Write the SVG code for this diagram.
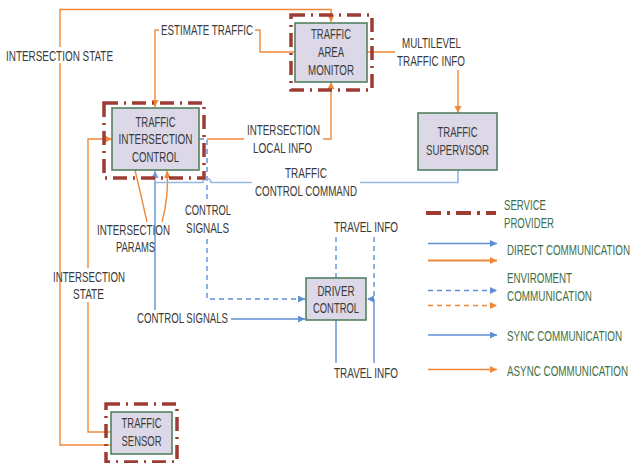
<svg xmlns="http://www.w3.org/2000/svg" width="633" height="463" viewBox="0 0 633 463">
<style>
text{font-family:"Liberation Sans",Arial,sans-serif;font-size:14px;fill:#3a3a3a;text-anchor:middle}
.lg{fill:#3e6e48;text-anchor:start}
.box{fill:#dcd8e7;stroke:#4a7a55;stroke-width:1.5}
.frame{fill:none;stroke:#9e3b33;stroke-width:3.5;stroke-dasharray:14 6 2 6}
.o{fill:none;stroke:#f0883a;stroke-width:1.4}
.b{fill:none;stroke:#5f8fd3;stroke-width:1.4}
.lb{fill:none;stroke:#93b6e2;stroke-width:1.6}
.d{stroke-dasharray:5 4}
.bg{fill:#fff}
</style>
<defs>
<marker id="aO" markerUnits="userSpaceOnUse" markerWidth="8" markerHeight="8" refX="7" refY="3.5" orient="auto"><path d="M0,0 L7,3.5 L0,7 z" fill="#f0883a"/></marker>
<marker id="aB" markerUnits="userSpaceOnUse" markerWidth="8" markerHeight="8" refX="7" refY="3.5" orient="auto"><path d="M0,0 L7,3.5 L0,7 z" fill="#5f8fd3"/></marker>
<marker id="aLB" markerUnits="userSpaceOnUse" markerWidth="8" markerHeight="8" refX="7" refY="3.5" orient="auto"><path d="M0,0 L7,3.5 L0,7 z" fill="#6f9bd8"/></marker>
</defs>
<rect width="633" height="463" fill="#fff"/>

<g id="connectors">
<path class="o" d="M112,445 H60 V9.5 H331 V22" marker-end="url(#aO)"/>
<path class="o" d="M112,432 H88 V139 H112" marker-end="url(#aO)"/>
<path class="o" d="M295,52 H260 V30 H155 V107" marker-end="url(#aO)"/>
<path class="o" d="M367,52 H458 V113" marker-end="url(#aO)"/>
<path class="o" d="M207,139 H331 V82" marker-end="url(#aO)"/>
<path class="o" d="M135,170 Q141,195 147,222"/>
<path class="o" d="M162,222 Q169,196 167,171" marker-end="url(#aO)"/>
<path class="b d" d="M199,139 H207 V299 H305" marker-end="url(#aB)"/>
<path class="lb" d="M458,170 V182.5 H211 a4,4 0 0 0 -8,0 H155 V171" marker-end="url(#aLB)"/>
<path class="b" d="M155,182.5 V319 H305" marker-end="url(#aB)"/>
<path class="b d" d="M336,237 V278"/>
<path class="b d" d="M374,237 V299 H367" marker-end="url(#aB)"/>
<path class="b" d="M336,320 V363 M374,299 V363"/>
</g>

<g id="labels">
<rect class="bg" x="4" y="47" width="111" height="16"/>
<text transform="translate(59.5,60.5) scale(0.7,1)" textLength="152.9" lengthAdjust="spacingAndGlyphs">INTERSECTION STATE</text>
<rect class="bg" x="159" y="23" width="96" height="15"/>
<text transform="translate(207,35) scale(0.7,1)" textLength="131.4" lengthAdjust="spacingAndGlyphs">ESTIMATE TRAFFIC</text>
<rect class="bg" x="395" y="35" width="72" height="35"/>
<text transform="translate(431.5,48) scale(0.7,1)" textLength="84.3" lengthAdjust="spacingAndGlyphs">MULTILEVEL</text>
<text transform="translate(431,65.5) scale(0.7,1)" textLength="97.1" lengthAdjust="spacingAndGlyphs">TRAFFIC INFO</text>
<rect class="bg" x="244" y="122" width="79" height="34"/>
<text transform="translate(283.5,135) scale(0.7,1)" textLength="104.3" lengthAdjust="spacingAndGlyphs">INTERSECTION</text>
<text transform="translate(282.5,153) scale(0.7,1)" textLength="84.3" lengthAdjust="spacingAndGlyphs">LOCAL INFO</text>
<rect class="bg" x="252" y="165" width="108" height="34"/>
<text transform="translate(306,178) scale(0.7,1)" textLength="60" lengthAdjust="spacingAndGlyphs">TRAFFIC</text>
<text transform="translate(306,195.5) scale(0.7,1)" textLength="145.7" lengthAdjust="spacingAndGlyphs">CONTROL COMMAND</text>
<rect class="bg" x="183" y="202" width="50" height="34"/>
<text transform="translate(208,215) scale(0.7,1)" textLength="65.7" lengthAdjust="spacingAndGlyphs">CONTROL</text>
<text transform="translate(207.5,232.5) scale(0.7,1)" textLength="61.4" lengthAdjust="spacingAndGlyphs">SIGNALS</text>
<text transform="translate(133.5,234.5) scale(0.7,1)" textLength="104.3" lengthAdjust="spacingAndGlyphs">INTERSECTION</text>
<text transform="translate(135.5,252) scale(0.7,1)" textLength="55.7" lengthAdjust="spacingAndGlyphs">PARAMS</text>
<rect class="bg" x="63" y="268" width="54" height="34"/>
<text transform="translate(89,281.5) scale(0.7,1)" textLength="102.9" lengthAdjust="spacingAndGlyphs">INTERSECTION</text>
<text transform="translate(88.5,298.5) scale(0.7,1)" textLength="44.3" lengthAdjust="spacingAndGlyphs">STATE</text>
<rect class="bg" x="135" y="310" width="96" height="15"/>
<text transform="translate(182.5,323) scale(0.7,1)" textLength="130" lengthAdjust="spacingAndGlyphs">CONTROL SIGNALS</text>
<text transform="translate(366,231.5) scale(0.7,1)" textLength="91.4" lengthAdjust="spacingAndGlyphs">TRAVEL INFO</text>
<text transform="translate(366,377.5) scale(0.7,1)" textLength="91.4" lengthAdjust="spacingAndGlyphs">TRAVEL INFO</text>
</g>

<g id="tam">
<rect class="frame" x="291" y="15" width="81" height="75"/>
<rect class="box" x="295" y="23" width="72" height="59"/>
<text transform="translate(331,39) scale(0.7,1)" textLength="57.1" lengthAdjust="spacingAndGlyphs">TRAFFIC</text>
<text transform="translate(331,57) scale(0.7,1)" textLength="37.1" lengthAdjust="spacingAndGlyphs">AREA</text>
<text transform="translate(331,75) scale(0.7,1)" textLength="65.7" lengthAdjust="spacingAndGlyphs">MONITOR</text>
</g>
<g id="supervisor">
<rect class="box" x="418" y="113" width="79" height="57"/>
<text transform="translate(457.5,137) scale(0.7,1)" textLength="57.1" lengthAdjust="spacingAndGlyphs">TRAFFIC</text>
<text transform="translate(457.5,155) scale(0.7,1)" textLength="90" lengthAdjust="spacingAndGlyphs">SUPERVISOR</text>
</g>
<g id="tic">
<rect class="frame" x="104" y="103" width="100" height="75"/>
<rect class="box" x="112" y="108" width="87" height="62"/>
<text transform="translate(155.5,126.5) scale(0.7,1)" textLength="57.1" lengthAdjust="spacingAndGlyphs">TRAFFIC</text>
<text transform="translate(155.5,144) scale(0.7,1)" textLength="105.7" lengthAdjust="spacingAndGlyphs">INTERSECTION</text>
<text transform="translate(155.5,161.5) scale(0.7,1)" textLength="67.1" lengthAdjust="spacingAndGlyphs">CONTROL</text>
</g>
<g id="driver">
<rect class="box" x="306" y="278" width="60" height="42"/>
<text transform="translate(336,296) scale(0.7,1)" textLength="52.9" lengthAdjust="spacingAndGlyphs">DRIVER</text>
<text transform="translate(336,313) scale(0.7,1)" textLength="65.7" lengthAdjust="spacingAndGlyphs">CONTROL</text>
</g>
<g id="sensor">
<rect class="frame" x="106" y="404" width="71" height="58"/>
<rect class="box" x="111" y="412" width="61" height="42"/>
<text transform="translate(141.5,428) scale(0.7,1)" textLength="57.1" lengthAdjust="spacingAndGlyphs">TRAFFIC</text>
<text transform="translate(141.5,445.5) scale(0.7,1)" textLength="57.1" lengthAdjust="spacingAndGlyphs">SENSOR</text>
</g>

<g id="legend">
<path d="M426,213 H496" fill="none" stroke="#9e3b33" stroke-width="4" stroke-dasharray="15 6 3 6"/>
<text class="lg" transform="translate(504,210) scale(0.7,1)" textLength="60" lengthAdjust="spacingAndGlyphs">SERVICE</text>
<text class="lg" transform="translate(504,227.5) scale(0.7,1)" textLength="71.4" lengthAdjust="spacingAndGlyphs">PROVIDER</text>
<path class="b" d="M428,243.5 H497" marker-end="url(#aB)"/>
<path class="o" style="stroke-width:2" d="M428,260.5 H497" marker-end="url(#aO)"/>
<text class="lg" transform="translate(507,255) scale(0.7,1)" textLength="175.7" lengthAdjust="spacingAndGlyphs">DIRECT COMMUNICATION</text>
<path class="b d" d="M428,290.5 H497" marker-end="url(#aB)"/>
<path class="o d" d="M428,305.5 H497" marker-end="url(#aO)"/>
<text class="lg" transform="translate(507,283) scale(0.7,1)" textLength="92.9" lengthAdjust="spacingAndGlyphs">ENVIROMENT</text>
<text class="lg" transform="translate(507,300.5) scale(0.7,1)" textLength="121.4" lengthAdjust="spacingAndGlyphs">COMMUNICATION</text>
<path class="b" d="M428,335 H497" marker-end="url(#aB)"/>
<text class="lg" transform="translate(507,341) scale(0.7,1)" textLength="164.3" lengthAdjust="spacingAndGlyphs">SYNC COMMUNICATION</text>
<path class="o" d="M428,369.5 H497" marker-end="url(#aO)"/>
<text class="lg" transform="translate(507,376) scale(0.7,1)" textLength="172.9" lengthAdjust="spacingAndGlyphs">ASYNC COMMUNICATION</text>
</g>
</svg>
